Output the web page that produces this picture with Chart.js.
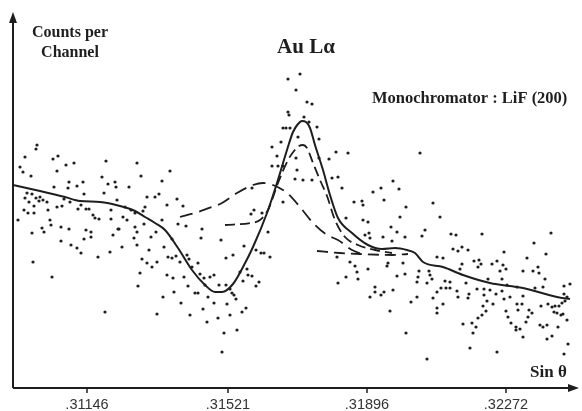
<!DOCTYPE html>
<html>
<head>
<meta charset="utf-8">
<script src="https://cdn.jsdelivr.net/npm/chart.js@4.4.0/dist/chart.umd.min.js"></script>
<style>
  html, body { margin: 0; padding: 0; background: #fff; }
  #wrap { width: 582px; height: 411px; }
</style>
</head>
<body>
<div id="wrap"><canvas id="c"></canvas></div>
<script>
// x = channel number along the scan, y = counts per channel (no y ticks in the original)
const tickChannels = [74, 215, 354, 493];
const tickLabels = [".31146", ".31521", ".31896", ".32272"];

// measured points, read zone by zone from left to right
const dotsZone1 = [[24,243],[23,239],[12,231],[40,229],[45,232],[7,221],[10,216],[18,212],[53,223],[61,225],[44,217],[93,227],[89,211],[95,204],[102,206],[103,201],[56,206],[64,202],[70,206],[41,201],[55,200],[71,194],[91,195],[14,195],[19,194],[12,190],[16,186],[23,190],[27,191],[30,188],[34,186],[26,187],[21,182],[15,175],[11,178],[5,168],[21,175],[35,178],[44,181],[49,182],[51,189],[57,186],[65,179],[68,183],[73,179],[76,179],[80,173],[82,170],[86,169],[98,178],[98,169],[104,188],[37,168],[38,163],[48,161],[56,159],[29,160],[31,156],[19,155],[73,158],[78,156],[78,151],[71,149],[48,147],[58,143],[64,140],[68,135],[97,136],[85,131],[105,159],[100,153],[20,126],[39,111],[92,76]];
const dotsZone2 = [[124,225],[128,212],[157,217],[149,207],[116,201],[134,191],[142,191],[146,194],[164,189],[154,183],[170,182],[112,181],[118,178],[122,175],[132,181],[130,177],[110,171],[114,168],[106,159],[122,161],[124,156],[131,164],[149,168],[165,164],[173,162],[143,156],[121,150],[109,141],[124,143],[138,151],[151,141],[159,149],[136,138],[155,131],[159,130],[163,132],[129,129],[134,125],[139,121],[144,126],[167,126],[174,133],[176,129],[179,121],[185,125],[189,159],[188,150],[127,115],[154,113],[160,110],[171,111],[187,114],[191,110],[197,111],[201,113],[175,102],[182,95],[185,95],[192,103],[125,102],[150,91],[161,96],[168,85],[195,91],[201,85],[190,79],[177,73],[144,74],[194,66],[205,70],[209,36],[211,55],[208,148],[206,103],[224,58]];
const dotsZone3 = [[275,309],[287,314],[283,298],[294,286],[299,284],[275,276],[276,273],[291,271],[270,260],[273,260],[277,260],[296,266],[304,261],[306,249],[268,246],[259,241],[285,251],[264,232],[283,230],[259,222],[265,222],[270,222],[306,230],[316,229],[284,218],[282,209],[290,208],[299,208],[239,200],[270,186],[241,178],[238,174],[249,175],[255,156],[231,142],[220,133],[213,130],[243,138],[248,135],[251,135],[257,131],[234,119],[235,113],[239,112],[227,116],[230,107],[246,106],[243,102],[213,103],[217,99],[219,95],[221,93],[223,89],[214,84],[233,80],[229,76],[217,73]];
const dotsZone4 = [[323,236],[335,235],[319,210],[325,211],[329,200],[380,207],[360,196],[368,200],[386,199],[341,186],[349,187],[350,183],[371,188],[393,181],[333,170],[350,168],[355,166],[387,171],[378,161],[384,156],[352,153],[356,155],[357,150],[370,151],[379,147],[392,151],[324,131],[337,126],[342,122],[355,119],[375,125],[374,122],[390,125],[344,116],[333,111],[345,109],[384,112],[392,114],[325,105],[362,101],[362,96],[371,96],[368,93],[380,98],[357,91],[398,86],[377,77],[393,55],[407,235]];
const dotsZone5 = [[420,185],[427,171],[412,158],[409,152],[438,154],[443,153],[469,154],[440,139],[445,137],[449,141],[455,138],[424,131],[430,130],[461,127],[466,128],[449,124],[468,124],[465,121],[406,117],[416,117],[447,119],[405,111],[417,113],[404,106],[414,105],[419,109],[432,107],[437,106],[453,105],[475,109],[428,100],[433,100],[437,100],[424,96],[444,97],[464,99],[471,99],[471,93],[456,94],[445,91],[455,90],[477,98],[404,91],[420,90],[474,87],[430,84],[424,80],[424,75],[470,82],[473,77],[469,73],[465,70],[450,64],[459,65],[463,61],[460,55],[457,40],[414,29]];
const dotsZone6 = [[538,155],[521,145],[533,134],[491,136],[514,130],[479,124],[484,127],[490,123],[493,119],[487,117],[525,121],[520,117],[526,115],[510,117],[489,109],[532,109],[494,103],[504,101],[557,104],[551,102],[522,100],[530,101],[489,97],[483,94],[551,94],[497,91],[491,89],[510,92],[480,84],[552,87],[554,91],[504,84],[509,84],[528,82],[535,84],[539,81],[542,82],[546,82],[549,85],[493,77],[505,78],[516,78],[519,75],[541,76],[544,75],[548,73],[495,71],[515,71],[550,74],[554,68],[498,65],[503,61],[503,58],[507,59],[527,63],[530,61],[534,63],[513,66],[545,61],[510,51],[534,49],[539,52],[555,44],[484,36],[551,34]];

// fitted total (solid) and its components (dashed)
const fitTotal = [[0,203],[27,197],[52,191],[67,187],[87,186],[107,182],[122,177],[132,171],[142,165],[152,158],[165,140],[179,118],[192,103],[202,96],[209,96],[220,104],[230,121],[240,141],[254,175],[264,205],[274,238],[280,256],[285,264],[289,267],[293,266],[297,260],[302,243],[310,218],[317,193],[325,170],[339,155],[355,143],[369,139],[382,140],[394,138],[402,135],[410,126],[430,121],[450,113],[477,105],[510,100],[544,91],[557,89]];
const peakLine = [[212,163],[237,165],[247,168],[255,178],[265,205],[275,228],[281,237],[286,242],[290,243],[294,240],[300,225],[307,208],[314,192],[322,168],[332,151],[345,143],[362,138],[379,135]];
const broadLine = [[167,171],[182,175],[199,181],[209,185],[224,195],[240,203],[250,205],[260,203],[274,195],[287,181],[300,165],[314,153],[325,148],[339,138],[349,134]];
const flatLine = [[304,137],[327,135],[347,134],[379,133],[395,134]];

const ink = "#1e1e1e";
const toXY = (arr) => arr.map((p) => ({ x: p[0], y: p[1] }));
const dots = [].concat(dotsZone1, dotsZone2, dotsZone3, dotsZone4, dotsZone5, dotsZone6);

const serif = "'Liberation Serif', 'DejaVu Serif', serif";

const decor = {
  id: "decor",
  afterDraw(chart) {
    const { ctx, chartArea: a } = chart;
    const xs = chart.scales.x;
    ctx.save();
    ctx.strokeStyle = ink;
    ctx.fillStyle = ink;
    ctx.lineWidth = 2;
    ctx.setLineDash([]);
    // axes
    ctx.beginPath();
    ctx.moveTo(a.left, a.bottom);
    ctx.lineTo(a.left, a.top + 4);
    ctx.moveTo(a.left, a.bottom);
    ctx.lineTo(a.right - 4, a.bottom);
    ctx.stroke();
    // arrow heads
    ctx.beginPath();
    ctx.moveTo(a.left, a.top - 1);
    ctx.lineTo(a.left - 4, a.top + 10);
    ctx.lineTo(a.left + 4, a.top + 10);
    ctx.closePath();
    ctx.fill();
    ctx.beginPath();
    ctx.moveTo(a.right + 1, a.bottom);
    ctx.lineTo(a.right - 10, a.bottom - 4);
    ctx.lineTo(a.right - 10, a.bottom + 4);
    ctx.closePath();
    ctx.fill();
    // tick marks
    ctx.lineWidth = 1.5;
    tickChannels.forEach((v) => {
      const x = xs.getPixelForValue(v);
      ctx.beginPath();
      ctx.moveTo(x, a.bottom);
      ctx.lineTo(x, a.bottom + 5);
      ctx.stroke();
    });
    // texts
    ctx.textBaseline = "middle";
    ctx.textAlign = "center";
    ctx.font = "bold 16px " + serif;
    ctx.fillText("Counts per", 70, 33);
    ctx.fillText("Channel", 70, 53);
    ctx.font = "bold 21px " + serif;
    ctx.fillText("Au Lα", 306, 48);
    ctx.textAlign = "left";
    ctx.font = "bold 16.5px " + serif;
    ctx.fillText("Monochromator : LiF (200)", 372, 99);
    ctx.font = "bold 17px " + serif;
    ctx.fillText("Sin θ", 530, 373);
    ctx.restore();
  },
};

new Chart(document.getElementById("c"), {
  type: "scatter",
  data: {
    datasets: [
      {
        data: toXY(dots),
        pointRadius: 1.6,
        pointBackgroundColor: ink,
        pointBorderWidth: 0,
        showLine: false,
      },
      {
        data: toXY(fitTotal),
        showLine: true,
        borderColor: ink,
        borderWidth: 2,
        pointRadius: 0,
        cubicInterpolationMode: "monotone",
      },
      {
        data: toXY(peakLine),
        showLine: true,
        borderColor: ink,
        borderWidth: 1.8,
        borderDash: [10, 5],
        pointRadius: 0,
        cubicInterpolationMode: "monotone",
      },
      {
        data: toXY(broadLine),
        showLine: true,
        borderColor: ink,
        borderWidth: 1.8,
        borderDash: [13, 7],
        pointRadius: 0,
        cubicInterpolationMode: "monotone",
      },
      {
        data: toXY(flatLine),
        showLine: true,
        borderColor: ink,
        borderWidth: 1.8,
        borderDash: [11, 6],
        pointRadius: 0,
        cubicInterpolationMode: "monotone",
      },
    ],
  },
  options: {
    responsive: true,
    maintainAspectRatio: false,
    animation: false,
    layout: { padding: { left: 13, top: 13, right: 4, bottom: 0 } },
    plugins: {
      legend: { display: false },
      tooltip: { enabled: false },
    },
    scales: {
      x: {
        type: "linear",
        min: 0,
        max: 565,
        grid: { display: false, drawTicks: false },
        border: { display: false },
        afterBuildTicks: (s) => {
          s.ticks = tickChannels.map((v) => ({ value: v }));
        },
        afterFit: (s) => {
          s.height = 23;
        },
        ticks: {
          autoSkip: false,
          maxRotation: 0,
          padding: 8,
          color: "#333",
          font: { family: "'Liberation Sans', Arial, sans-serif", size: 14.5 },
          callback: (v, i) => tickLabels[i],
        },
      },
      y: {
        display: false,
        min: 0,
        max: 375,
      },
    },
  },
  plugins: [decor],
});
</script>
</body>
</html>
